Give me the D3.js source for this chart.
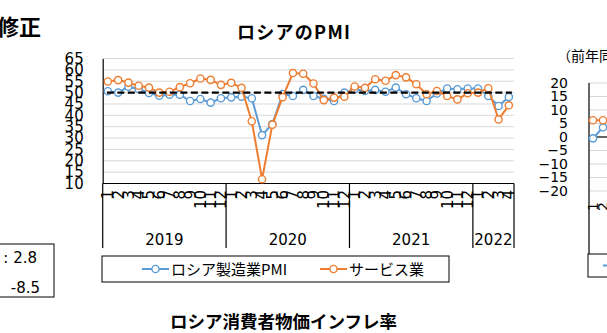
<!DOCTYPE html>
<html><head><meta charset="utf-8">
<script src="https://cdn.jsdelivr.net/npm/d3@7/dist/d3.min.js"></script>
<style>
html,body{margin:0;padding:0;background:#fff;overflow:hidden;}
svg{display:block;}
text{font-family:"DejaVu Sans","Noto Sans CJK JP",sans-serif;}
.jp{font-family:"Noto Sans CJK JP","DejaVu Sans",sans-serif;}
</style></head>
<body>
<svg id="c" width="607" height="333"></svg>
<script>
// ---- data ----
const years = ["2019", "2020", "2021", "2022"];
const monthsPerYear = [12, 12, 12, 4];
const manufacturing = [50.6, 50.0, 52.6, 51.6, 49.8, 48.6, 49.1, 49.1, 46.3, 47.2, 45.6, 47.5,
  47.9, 48.2, 47.5, 31.3, 36.2, 49.4, 48.5, 51.2, 48.5, 47.3, 46.3, 50.0,
  51.5, 50.7, 51.2, 50.4, 52.2, 49.3, 47.5, 46.3, 49.6, 51.8, 51.5, 51.8,
  51.8, 48.5, 44.1, 48.1];
const services = [54.9, 55.5, 54.4, 53.0, 52.2, 50.0, 50.4, 52.4, 54.1, 56.2, 55.6, 53.4,
  54.3, 52.1, 37.4, 11.9, 35.9, 48.0, 58.6, 58.3, 54.0, 46.7, 47.8, 48.2,
  52.7, 52.1, 55.9, 55.2, 57.7, 56.7, 53.7, 49.3, 50.7, 48.5, 47.0, 49.7,
  50.0, 51.9, 38.2, 44.4];
const threshold = 50;
const yTicks = [10, 15, 20, 25, 30, 35, 40, 45, 50, 55, 60, 65];
const seriesNames = ["ロシア製造業PMI", "サービス業"];
const title = "ロシアのPMI";
// fragments of neighbouring charts
const leftTitle = "修正";
const leftBoxTexts = [": 2.8", "-8.5"];
const bottomTitle = "ロシア消費者物価インフレ率";
const rightNote = "（前年同月比、%）";
const rightTicks = [20, 15, 10, 5, 0, -5, -10, -15, -20];
const rightBlue = [-0.5, 3.6];
const rightOrange = [6.2, 6.2];
const rightMonths = ["1", "2"];

const blue = "#5B9BD5", orange = "#ED7D31";
const svg = d3.select("#c");

// months list
const cats = [];
years.forEach((y, yi) => { for (let m = 1; m <= monthsPerYear[yi]; m++) cats.push({year: y, m: m, i: cats.length}); });

const x = d3.scaleBand().domain(cats.map(d => d.i)).range([102.7, 514]);
const y = d3.scaleLinear().domain([10, 65]).range([183.5, 58.5]);
const cx = i => x(i) + x.bandwidth() / 2;

// title
svg.append("text").attr("class", "jp").attr("x", 237).attr("y", 39)
  .attr("font-size", 18).attr("font-weight", "bold").attr("textLength", 113).attr("lengthAdjust", "spacing").text(title);

// gridlines
svg.append("g").selectAll("line").data(yTicks.filter(t => t > 10)).join("line")
  .attr("x1", 102.7).attr("x2", 514).attr("y1", d => y(d)).attr("y2", d => y(d))
  .attr("stroke", "#d9d9d9").attr("stroke-width", 1);

// y axis
const yAxis = svg.append("g").attr("transform", "translate(102.7,0)")
  .call(d3.axisLeft(y).tickValues(yTicks).tickSize(0).tickPadding(19));
yAxis.select(".domain").attr("stroke", "#000").attr("stroke-width", 1.2);
yAxis.selectAll("text").attr("font-size", 15).attr("fill", "#000")
  .style("font-family", "'DejaVu Sans', sans-serif");

// x axis line and year dividers
svg.append("line").attr("x1", 102.7).attr("x2", 514).attr("y1", 183.5).attr("y2", 183.5)
  .attr("stroke", "#000").attr("stroke-width", 1.2);
const yearStarts = [];
let acc = 0;
years.forEach((yr, yi) => { yearStarts.push({year: yr, s: acc, e: acc + monthsPerYear[yi] - 1}); acc += monthsPerYear[yi]; });
const bounds = yearStarts.map(d => x(d.s)).concat([x(cats.length - 1) + x.bandwidth()]);
svg.append("g").selectAll("line").data(bounds).join("line")
  .attr("x1", d => d).attr("x2", d => d).attr("y1", 183.5).attr("y2", 248)
  .attr("stroke", "#000").attr("stroke-width", 1.2);

// month labels (rotated)
svg.append("g").selectAll("text").data(cats).join("text")
  .attr("transform", d => `translate(${cx(d.i)},190) rotate(-90)`)
  .attr("text-anchor", "end").attr("dy", "0.36em").attr("font-size", 15).text(d => d.m);

// year labels
svg.append("g").selectAll("text").data(yearStarts).join("text")
  .attr("x", d => (x(d.s) + x(d.e) + x.bandwidth()) / 2).attr("y", 245)
  .attr("text-anchor", "middle").attr("font-size", 15).text(d => d.year);

// series
const line = d3.line().x((d, i) => cx(i)).y(d => y(d));
[[manufacturing, blue], [services, orange]].forEach(([vals, col]) => {
  svg.append("path").datum(vals).attr("d", line).attr("fill", "none")
    .attr("stroke", col).attr("stroke-width", 2).attr("stroke-linejoin", "round");
  svg.append("g").selectAll("circle").data(vals).join("circle")
    .attr("cx", (d, i) => cx(i)).attr("cy", d => y(d)).attr("r", 3.6)
    .attr("fill", "#fff").attr("stroke", col).attr("stroke-width", 1.4);
});

// threshold dashed line
svg.append("line").attr("x1", cx(0) - 1).attr("x2", cx(cats.length - 1) + 3)
  .attr("y1", y(threshold)).attr("y2", y(threshold))
  .attr("stroke", "#000").attr("stroke-width", 2.4).attr("stroke-dasharray", "7,3.5");

// legend
const lg = svg.append("g");
lg.append("rect").attr("x", 102).attr("y", 256).attr("width", 347).attr("height", 26)
  .attr("fill", "#fff").attr("stroke", "#000").attr("stroke-width", 1);
[[142, blue, seriesNames[0]], [320, orange, seriesNames[1]]].forEach(([lx, col, name]) => {
  lg.append("line").attr("x1", lx).attr("x2", lx + 27).attr("y1", 269).attr("y2", 269)
    .attr("stroke", col).attr("stroke-width", 2);
  lg.append("circle").attr("cx", lx + 13.5).attr("cy", 269).attr("r", 3.6)
    .attr("fill", "#fff").attr("stroke", col).attr("stroke-width", 1.4);
  lg.append("text").attr("class", "jp").attr("x", lx + 29).attr("y", 275).attr("font-size", 15).text(name);
});

// ---- neighbouring fragments ----
svg.append("text").attr("class", "jp").attr("x", 41).attr("y", 35).attr("text-anchor", "end")
  .attr("font-size", 22).attr("font-weight", "bold").text(leftTitle);
svg.append("rect").attr("x", -2).attr("y", 244).attr("width", 56).attr("height", 53)
  .attr("fill", "#fff").attr("stroke", "#000").attr("stroke-width", 1);
leftBoxTexts.forEach((t, k) => {
  svg.append("text").attr("x", k === 0 ? 37 : 40).attr("y", 263 + k * 30).attr("text-anchor", "end")
    .attr("font-size", 15).text(t);
});
svg.append("text").attr("class", "jp").attr("x", 170).attr("y", 328)
  .attr("font-size", 17.5).attr("font-weight", "bold").text(bottomTitle);

// right chart fragment
const ry = d3.scaleLinear().domain([-20, 20]).range([191, 83]);
const rx = d3.scaleBand().domain([0, 1]).range([588, 608]);
const rcx = i => rx(i) + rx.bandwidth() / 2;
svg.append("text").attr("class", "jp").attr("x", 557).attr("y", 61).attr("font-size", 14).text(rightNote);
svg.append("g").selectAll("line").data(rightTicks.filter(t => t !== 0)).join("line")
  .attr("x1", 589).attr("x2", 607).attr("y1", d => ry(d)).attr("y2", d => ry(d))
  .attr("stroke", "#d9d9d9");
const ra = svg.append("g").attr("transform", "translate(589,0)")
  .call(d3.axisLeft(ry).tickValues(rightTicks).tickSize(0).tickPadding(21));
ra.select(".domain").remove();
ra.selectAll("text").attr("font-size", 14).attr("fill", "#000").style("font-family", "'DejaVu Sans', sans-serif");
svg.append("line").attr("x1", 589).attr("x2", 589).attr("y1", 83).attr("y2", 260).attr("stroke", "#000").attr("stroke-width", 1.2);
svg.append("line").attr("x1", 589).attr("x2", 607).attr("y1", ry(0)).attr("y2", ry(0)).attr("stroke", "#000").attr("stroke-width", 1.2);
svg.append("g").selectAll("text").data(rightMonths).join("text")
  .attr("transform", (d, i) => `translate(${rcx(i)},${ry(-20) + 11}) rotate(-90)`)
  .attr("text-anchor", "end").attr("dy", "0.36em").attr("font-size", 14).text(d => d);
[[rightBlue, blue], [rightOrange, orange]].forEach(([vals, col]) => {
  svg.append("path").datum(vals).attr("d", d3.line().x((d, i) => rcx(i)).y(d => ry(d)))
    .attr("fill", "none").attr("stroke", col).attr("stroke-width", 2);
  svg.append("g").selectAll("circle").data(vals).join("circle")
    .attr("cx", (d, i) => rcx(i)).attr("cy", d => ry(d)).attr("r", 3.6)
    .attr("fill", "#fff").attr("stroke", col).attr("stroke-width", 1.4);
});
svg.append("rect").attr("x", 588).attr("y", 254).attr("width", 40).attr("height", 23)
  .attr("fill", "#fff").attr("stroke", "#000");
svg.append("line").attr("x1", 603).attr("x2", 612).attr("y1", 265.5).attr("y2", 265.5).attr("stroke", blue).attr("stroke-width", 2);
</script>
</body></html>
